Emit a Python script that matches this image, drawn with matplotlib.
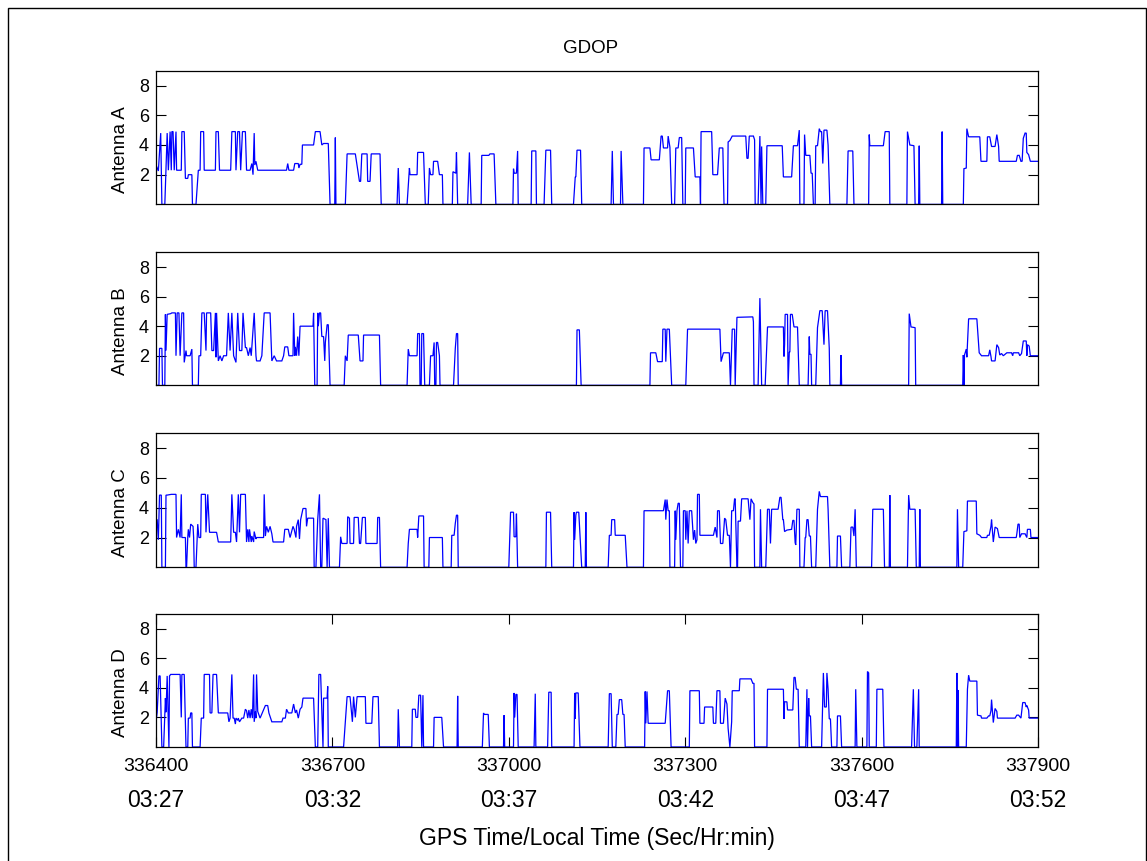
import matplotlib
matplotlib.use("Agg")
import matplotlib.pyplot as plt
from matplotlib.patches import Rectangle
from matplotlib.transforms import blended_transform_factory

plt.rcParams['font.family'] = ['Liberation Sans', 'DejaVu Sans']

# GPS seconds of week and matching local clock labels
gps_ticks = [336400, 336700, 337000, 337300, 337600, 337900]
local_times = ['03:27', '03:32', '03:37', '03:42', '03:47', '03:52']
gdop_ticks = [2, 4, 6, 8]
panel_names = ['Antenna A', 'Antenna B', 'Antenna C', 'Antenna D']

# (GPS time [s], GDOP) samples per antenna; 0 means no solution
antenna_a = [
    (336400, 2.65), (336404, 2.25), (336408, 4.8), (336410, 0), (336415, 0), (336417, 2.3),
    (336419, 4.8), (336421, 2.3), (336424, 4.9), (336426, 2.3), (336427, 4.9), (336429, 4.9),
    (336431, 2.3), (336434, 4.9), (336435, 2.3), (336443, 2.3), (336444, 4.9), (336448, 4.9),
    (336450, 1.75), (336454, 1.75), (336455, 2.0), (336461, 2.0), (336462, 0), (336468, 0),
    (336472, 2.3), (336475, 2.3), (336476, 4.9), (336481, 4.9), (336482, 2.3), (336501, 2.3),
    (336502, 4.9), (336506, 4.9), (336508, 2.3), (336527, 2.3), (336529, 4.9), (336535, 4.9),
    (336536, 2.3), (336539, 4.9), (336542, 4.9), (336544, 2.3), (336547, 4.9), (336552, 4.9),
    (336554, 2.3), (336560, 2.3), (336563, 2.75), (336565, 2.0), (336567, 4.8), (336568, 2.65),
    (336570, 2.9), (336573, 2.3), (336622, 2.3), (336624, 2.75), (336626, 2.3), (336634, 2.3),
    (336636, 2.75), (336642, 2.75), (336643, 2.45), (336645, 2.7), (336648, 2.7), (336649, 4.0),
    (336668, 4.0), (336671, 4.9), (336679, 4.9), (336682, 4.0), (336685, 4.1), (336693, 4.1),
    (336696, 0), (336704, 0), (336705, 4.5), (336706, 0), (336722, 0), (336725, 3.4),
    (336739, 3.4), (336746, 1.55), (336748, 1.55), (336750, 3.4), (336759, 3.4), (336760, 1.55),
    (336764, 1.55), (336766, 3.4), (336781, 3.4), (336783, 0), (336810, 0), (336812, 2.45),
    (336814, 0), (336827, 0), (336831, 2.45), (336832, 2.0), (336844, 2.0), (336845, 3.5),
    (336855, 3.5), (336858, 0), (336863, 0), (336865, 2.45), (336867, 2.0), (336871, 2.0),
    (336872, 2.9), (336879, 2.9), (336882, 2.0), (336887, 2.0), (336888, 0),
    (336904, 0), (336905, 2.2), (336910, 2.1), (336911, 3.5), (336913, 0), (336930, 0),
    (336933, 3.5), (336936, 0), (336953, 0), (336954, 3.3), (336966, 3.3), (336968, 3.4),
    (336975, 3.4), (336978, 0), (337007, 0), (337008, 2.4), (337009, 2.1), (337013, 2.1),
    (337015, 3.6), (337016, 0), (337038, 0), (337039, 3.6), (337046, 3.6), (337047, 0),
    (337060, 0), (337063, 3.65), (337071, 3.65), (337073, 0), (337110, 0), (337113, 1.85),
    (337114, 1.85), (337116, 3.65), (337122, 3.65), (337124, 0), (337174, 0), (337176, 3.6),
    (337178, 0), (337190, 0), (337191, 3.6), (337194, 0), (337229, 0), (337230, 3.8),
    (337240, 3.8), (337242, 3.0), (337256, 3.0), (337259, 4.6), (337261, 4.6), (337263, 3.8),
    (337270, 3.8), (337271, 4.6), (337274, 3.85), (337277, 0), (337282, 0), (337284, 3.8),
    (337288, 3.8), (337290, 4.5), (337294, 4.5), (337296, 0), (337300, 0), (337301, 3.8),
    (337314, 3.8), (337317, 1.85), (337325, 1.85), (337326, 0), (337327, 4.9), (337345, 4.9),
    (337347, 2.0), (337355, 2.0), (337358, 3.8), (337364, 3.8), (337366, 0), (337372, 0),
    (337373, 4.2), (337376, 4.3), (337380, 4.6),
    (337403, 4.6), (337405, 3.1), (337407, 3.1), (337409, 4.6), (337416, 4.6), (337418, 4.35),
    (337419, 0), (337424, 0), (337427, 4.6), (337429, 0), (337430, 3.9), (337432, 0),
    (337437, 0), (337439, 3.95), (337465, 3.95), (337467, 1.85), (337481, 1.85), (337484, 3.95),
    (337491, 3.95), (337494, 5.0), (337495, 0), (337502, 0), (337503, 4.7), (337505, 3.3),
    (337512, 3.3), (337514, 2.1), (337516, 2.1), (337518, 0), (337521, 0), (337522, 3.95),
    (337525, 3.95), (337528, 5.1), (337530, 4.9), (337532, 4.9), (337534, 2.75), (337536, 5.0),
    (337541, 5.0), (337543, 4.0), (337546, 0), (337575, 0), (337577, 3.6), (337585, 3.6),
    (337587, 0), (337612, 0), (337613, 4.7), (337614, 3.95), (337637, 3.95), (337640, 4.9),
    (337647, 4.9), (337648, 0), (337677, 0), (337678, 4.9), (337682, 4.0), (337689, 3.95),
    (337691, 0), (337697, 0), (337698, 3.95), (337699, 0), (337736, 0), (337737, 4.9),
    (337738, 0), (337773, 0), (337774, 2.4), (337778, 2.45), (337779, 5.1), (337782, 4.55),
    (337801, 4.55), (337803, 2.9), (337813, 2.9), (337814, 4.55), (337818, 4.55), (337821, 3.9),
    (337827, 3.9), (337830, 4.7), (337833, 3.9), (337834, 2.9), (337863, 2.9), (337865, 3.3),
    (337868, 3.3), (337871, 2.9), (337873, 2.9), (337875, 4.45), (337878, 4.8), (337880, 4.8),
    (337881, 3.5), (337884, 3.35), (337887, 2.9), (337900, 2.9),
]

antenna_b = [
    (336400, 0), (336405, 0), (336406, 2.5), (336410, 2.5), (336411, 0), (336415, 0),
    (336416, 4.8), (336417, 2.35), (336419, 4.8), (336425, 4.85), (336427, 4.9), (336433, 4.9),
    (336434, 2.0), (336436, 4.9), (336439, 4.9), (336441, 2.0), (336444, 4.9), (336447, 4.9),
    (336448, 1.55), (336451, 2.35), (336452, 2.0), (336458, 2.0), (336461, 2.45), (336462, 0),
    (336472, 0), (336473, 2.0), (336476, 2.0), (336478, 4.9), (336482, 4.9), (336485, 2.35),
    (336486, 4.9), (336493, 4.9), (336495, 2.35), (336498, 2.35), (336501, 4.9), (336502, 1.9),
    (336503, 4.9), (336506, 1.65), (336509, 2.0), (336512, 1.65), (336515, 2.0), (336520, 2.0),
    (336523, 4.9), (336526, 2.35), (336529, 4.9), (336532, 2.0), (336536, 1.55), (336539, 4.9),
    (336542, 2.35), (336546, 2.35), (336548, 4.9), (336552, 2.55), (336554, 2.55), (336557, 2.0),
    (336560, 2.55), (336562, 2.0), (336567, 4.9), (336570, 2.0), (336571, 1.65), (336577, 1.65),
    (336580, 2.0), (336584, 4.9), (336594, 4.9), (336597, 1.65), (336601, 2.0), (336605, 1.65),
    (336614, 1.65), (336617, 2.0), (336619, 2.6), (336624, 2.6), (336626, 2.0), (336633, 2.0),
    (336634, 4.9), (336636, 2.0), (336637, 2.6), (336639, 2.0), (336641, 3.3), (336643, 2.0),
    (336645, 4.0), (336667, 4.0), (336668, 4.9), (336670, 0), (336674, 0), (336675, 4.9),
    (336676, 4.0), (336678, 4.9), (336680, 4.9), (336682, 3.3), (336685, 3.3), (336687, 1.65),
    (336688, 2.9), (336691, 4.1), (336693, 4.1), (336696, 0), (336720, 0), (336722, 2.0),
    (336725, 1.65), (336727, 3.4), (336744, 3.4), (336747, 1.65), (336752, 1.65), (336753, 3.4),
    (336780, 3.4), (336782, 0), (336827, 0), (336829, 2.45), (336831, 2.0), (336844, 2.0),
    (336845, 3.5), (336848, 3.5), (336849, 0), (336851, 0), (336852, 3.5), (336855, 3.5),
    (336857, 0), (336865, 0), (336867, 2.0), (336871, 2.0), (336873, 2.9), (336874, 0),
    (336876, 0), (336877, 2.9), (336879, 2.9), (336882, 2.0), (336883, 0),
    (336906, 0), (336909, 2.5), (336911, 3.5), (336913, 3.5), (336914, 0), (337115, 0),
    (337116, 3.75), (337120, 3.75), (337123, 0), (337240, 0), (337241, 2.2), (337250, 2.2),
    (337253, 1.6), (337261, 1.6), (337262, 3.8), (337266, 3.8), (337267, 1.6), (337269, 3.8),
    (337273, 3.8), (337277, 0), (337301, 0), (337304, 3.8), (337359, 3.8), (337361, 1.6),
    (337365, 2.2), (337375, 2.2), (337377, 0), (337380, 3.8), (337384, 3.8), (337385, 0),
    (337388, 4.6),
    (337415, 4.63), (337416, 4.3), (337417, 0), (337424, 0), (337427, 5.9), (337430, 0),
    (337436, 0), (337440, 3.95), (337467, 3.95), (337468, 1.95), (337469, 2.75), (337470, 4.8),
    (337474, 4.8), (337475, 0), (337477, 2.25), (337478, 2.25), (337479, 4.8), (337482, 4.8),
    (337485, 3.95), (337491, 3.95), (337494, 0), (337509, 0), (337511, 3.3), (337512, 2.1),
    (337514, 2.1), (337515, 0), (337522, 0), (337525, 3.9), (337529, 5.05), (337533, 5.05),
    (337536, 2.75), (337538, 5.05), (337542, 5.05), (337545, 2.5), (337546, 0), (337564, 0),
    (337565, 2.05), (337566, 0), (337680, 0), (337681, 4.85), (337684, 3.95), (337691, 3.9),
    (337692, 0), (337772, 0), (337773, 2.05), (337774, 0), (337775, 2.05), (337778, 2.45),
    (337779, 1.9), (337782, 4.5), (337796, 4.5), (337800, 2.2), (337804, 2.0), (337816, 2.0),
    (337818, 2.4), (337820, 1.95), (337821, 1.65), (337827, 1.65), (337830, 2.75), (337833, 2.55),
    (337835, 2.05), (337838, 2.15), (337841, 2.0), (337847, 2.2), (337855, 2.2), (337857, 2.0),
    (337858, 2.2), (337867, 2.2), (337869, 2.0), (337872, 2.15), (337875, 3.0), (337880, 3.0),
    (337881, 2.0), (337882, 2.75), (337885, 2.65), (337887, 2.0), (337900, 2.0),
]

antenna_c = [
    (336400, 3.2), (336402, 3.2), (336404, 1.85), (336406, 4.85), (336409, 4.85), (336410, 0),
    (336416, 0), (336417, 4.85), (336419, 4.85), (336426, 4.9), (336434, 4.9), (336435, 2.0),
    (336438, 2.55), (336441, 2.0), (336443, 4.9), (336444, 2.0), (336450, 2.0), (336451, 0),
    (336452, 0), (336454, 2.0), (336455, 2.55), (336457, 2.0), (336459, 2.9), (336463, 2.75),
    (336464, 2.0), (336465, 0), (336468, 0), (336471, 2.9), (336473, 2.0), (336476, 2.0),
    (336477, 4.9), (336484, 4.9), (336485, 2.35), (336488, 4.9), (336491, 2.35), (336503, 2.35),
    (336506, 1.7), (336527, 1.7), (336529, 4.9), (336532, 2.35), (336535, 2.35), (336537, 1.7),
    (336540, 4.9), (336542, 2.35), (336544, 4.9), (336552, 4.9), (336554, 1.7), (336556, 2.55),
    (336558, 1.7), (336559, 2.55), (336562, 1.7), (336563, 2.1), (336566, 1.7), (336567, 2.4),
    (336570, 1.9), (336571, 2.0), (336583, 2.0), (336584, 4.9), (336586, 2.1), (336588, 2.75),
    (336591, 2.35), (336594, 2.75), (336597, 2.25), (336599, 1.7), (336617, 1.7), (336619, 2.55),
    (336625, 2.55), (336628, 2.0), (336633, 2.75), (336635, 2.55), (336638, 2.0), (336639, 2.75),
    (336642, 3.2), (336644, 1.9), (336646, 3.2), (336650, 3.95), (336655, 3.95), (336656, 2.75),
    (336658, 3.3), (336668, 3.3), (336669, 0), (336672, 0), (336675, 3.2), (336678, 4.9),
    (336680, 0), (336682, 0), (336684, 3.3), (336689, 3.2), (336691, 0), (336693, 3.3),
    (336695, 0), (336712, 0), (336714, 2.05), (336716, 1.6), (336725, 1.6), (336726, 3.4),
    (336729, 3.3), (336730, 1.6), (336736, 1.6), (336737, 3.35), (336744, 3.35), (336746, 1.6),
    (336748, 1.6), (336751, 3.35), (336756, 3.35), (336757, 1.6), (336776, 1.6), (336777, 3.35),
    (336780, 3.35), (336782, 0), (336827, 0), (336829, 1.6), (336831, 2.55), (336844, 2.55),
    (336845, 2.0), (336847, 3.45), (336855, 3.45), (336856, 0), (336864, 0), (336865, 2.0),
    (336887, 2.0), (336888, 0),
    (336902, 0), (336903, 2.15), (336907, 2.15), (336909, 2.95), (336911, 3.5), (336913, 3.5),
    (336914, 0), (337000, 0), (337003, 3.7), (337008, 3.7), (337009, 2.05), (337012, 2.05),
    (337013, 3.6), (337015, 0), (337063, 0), (337064, 3.7), (337071, 3.7), (337073, 0),
    (337110, 0), (337111, 3.7), (337112, 1.85), (337114, 3.5), (337115, 3.7), (337119, 3.7),
    (337124, 0), (337130, 0), (337131, 3.7), (337132, 0), (337169, 0), (337171, 2.15),
    (337174, 2.15), (337175, 3.2), (337180, 3.2), (337181, 2.15), (337198, 2.15), (337201, 0),
    (337229, 0), (337230, 3.8), (337263, 3.8), (337266, 4.55), (337267, 3.2), (337269, 4.55),
    (337271, 3.8), (337273, 3.8), (337274, 0), (337282, 0), (337283, 3.8), (337284, 1.85),
    (337286, 3.8), (337288, 4.3), (337290, 4.3), (337292, 0), (337296, 0), (337297, 3.8),
    (337300, 3.8), (337301, 1.85), (337303, 3.8), (337305, 1.6), (337307, 3.8), (337311, 3.8),
    (337314, 1.85), (337316, 2.5), (337318, 1.6), (337320, 1.85), (337321, 4.9), (337324, 4.9),
    (337325, 2.15), (337348, 2.15), (337351, 2.7), (337354, 2.0), (337355, 3.8), (337358, 3.8),
    (337360, 1.6), (337364, 1.6), (337367, 3.3), (337369, 3.2), (337372, 2.15), (337375, 2.15),
    (337377, 0), (337379, 3.8), (337382, 3.8), (337384, 4.6), (337385, 4.6), (337388, 0),
    (337389, 0), (337390, 3.1), (337394, 3.1), (337396, 4.6),
    (337407, 4.6), (337410, 3.2), (337412, 4.6), (337415, 4.35), (337417, 4.25), (337418, 0),
    (337427, 0), (337428, 3.9), (337430, 0), (337437, 0), (337440, 3.9), (337443, 3.9),
    (337445, 1.6), (337447, 3.9), (337458, 3.9), (337461, 4.7), (337463, 4.7), (337466, 3.2),
    (337467, 3.2), (337469, 2.4), (337473, 2.5), (337481, 2.55), (337483, 3.15), (337485, 3.15),
    (337487, 1.65), (337488, 1.5), (337490, 3.9), (337494, 3.9), (337495, 0), (337502, 0),
    (337504, 2.0), (337505, 2.0), (337507, 3.2), (337509, 3.2), (337511, 2.1), (337513, 2.1),
    (337515, 0), (337522, 0), (337525, 3.9), (337528, 5.1), (337530, 4.75), (337542, 4.75),
    (337543, 3.9), (337546, 0), (337558, 0), (337559, 2.1), (337564, 2.1), (337566, 0),
    (337580, 0), (337582, 2.7), (337585, 2.7), (337587, 2.1), (337589, 3.9), (337591, 0),
    (337617, 0), (337619, 3.9), (337637, 3.9), (337639, 0), (337647, 0), (337648, 4.85),
    (337649, 0), (337678, 0), (337680, 4.85), (337682, 3.9), (337691, 3.9), (337693, 0),
    (337698, 0), (337699, 3.9), (337700, 0), (337762, 0), (337763, 3.9), (337765, 0),
    (337772, 0), (337774, 2.4), (337779, 2.45), (337780, 4.45), (337795, 4.45), (337796, 2.25),
    (337801, 2.15), (337804, 2.0), (337813, 2.0), (337814, 2.15), (337817, 2.15), (337820, 2.75),
    (337821, 3.2), (337824, 1.7), (337827, 2.7), (337831, 2.6), (337834, 2.0), (337863, 2.0),
    (337864, 2.25), (337866, 2.9), (337868, 2.9), (337869, 2.0), (337872, 2.25), (337878, 2.25),
    (337881, 2.0), (337882, 2.55), (337887, 2.55), (337888, 2.0), (337900, 2.0),
]

antenna_d = [
    (336400, 1.7), (336402, 2.35), (336405, 4.8), (336407, 4.8), (336409, 1.7), (336410, 0),
    (336413, 0), (336416, 3.3), (336417, 2.35), (336419, 4.8), (336422, 0), (336423, 4.8),
    (336425, 4.9), (336441, 4.9), (336443, 2.0), (336444, 4.9), (336448, 4.9), (336451, 0),
    (336454, 0), (336455, 1.95), (336458, 1.95), (336459, 2.3), (336461, 2.3), (336462, 0),
    (336475, 0), (336477, 1.95), (336481, 1.95), (336482, 4.9), (336491, 4.9), (336492, 2.3),
    (336495, 2.3), (336497, 4.9), (336503, 4.9), (336506, 2.3), (336522, 2.3), (336524, 1.7),
    (336526, 1.95), (336529, 4.9), (336531, 1.95), (336533, 1.95), (336535, 1.55), (336536, 1.95),
    (336539, 1.8), (336540, 1.95), (336542, 1.7), (336546, 1.95), (336549, 1.95), (336552, 2.55),
    (336554, 2.45), (336556, 1.95), (336558, 2.5), (336560, 1.95), (336562, 2.55), (336564, 1.95),
    (336566, 4.9), (336567, 1.7), (336569, 2.4), (336570, 1.95), (336571, 4.9), (336573, 2.4),
    (336577, 1.95), (336586, 2.8), (336590, 2.8), (336592, 2.3), (336597, 1.7), (336614, 1.7),
    (336616, 1.95), (336620, 1.95), (336622, 2.55), (336625, 2.3), (336631, 2.3), (336634, 2.9),
    (336637, 2.3), (336639, 2.5), (336642, 1.95), (336645, 2.55), (336648, 2.7), (336650, 3.3),
    (336668, 3.3), (336671, 0), (336675, 0), (336677, 4.9), (336680, 4.9), (336684, 0),
    (336685, 3.3), (336691, 3.3), (336692, 4.1), (336693, 0), (336719, 0), (336725, 3.4),
    (336730, 3.4), (336734, 1.7), (336736, 3.4), (336739, 2.0), (336742, 3.4), (336756, 3.4),
    (336757, 1.6), (336767, 1.6), (336769, 3.4), (336778, 3.4), (336780, 0), (336811, 0),
    (336812, 2.55), (336814, 0), (336835, 0), (336836, 2.55), (336841, 2.55), (336842, 2.0),
    (336845, 2.0), (336847, 3.5), (336850, 3.5), (336852, 0), (336854, 3.5), (336855, 0),
    (336872, 0), (336873, 2.0), (336886, 2.0), (336889, 0),
    (336912, 0), (336913, 3.45), (336914, 0), (336955, 0), (336957, 2.3), (336958, 2.2),
    (336965, 2.2), (336967, 0), (336991, 0), (336992, 2.15), (336993, 0), (337008, 0),
    (337009, 3.65), (337010, 2.0), (337012, 3.55), (337014, 3.55), (337016, 0), (337043, 0),
    (337045, 3.6), (337046, 0), (337066, 0), (337068, 3.7), (337072, 3.7), (337073, 0),
    (337111, 0), (337112, 3.65), (337113, 1.9), (337114, 3.65), (337118, 3.65), (337121, 0),
    (337169, 0), (337171, 3.6), (337174, 3.6), (337176, 0), (337182, 0), (337184, 2.2),
    (337186, 2.2), (337188, 3.2), (337192, 3.2), (337194, 2.2), (337196, 2.2), (337198, 0),
    (337231, 0), (337232, 3.75), (337233, 1.6), (337235, 3.75), (337237, 1.6), (337266, 1.6),
    (337270, 3.8), (337273, 3.8), (337276, 0), (337307, 0), (337308, 3.8), (337324, 3.8),
    (337325, 1.6), (337332, 1.6), (337333, 2.7), (337347, 2.7), (337348, 1.6), (337352, 1.6),
    (337354, 3.8), (337359, 3.8), (337360, 1.6), (337365, 1.6), (337368, 3.3), (337371, 2.9),
    (337373, 1.25), (337376, 0), (337379, 1.7), (337380, 3.8), (337392, 3.8), (337393, 4.6),
    (337412, 4.6), (337415, 4.3), (337417, 4.3), (337418, 0), (337439, 0), (337440, 3.9),
    (337467, 3.9), (337468, 1.9), (337469, 3.05), (337473, 3.05), (337474, 2.5), (337483, 2.5),
    (337485, 4.7), (337487, 4.7), (337489, 3.9), (337492, 3.9), (337494, 0), (337505, 0),
    (337507, 3.9), (337508, 0), (337510, 3.3), (337511, 2.1), (337513, 2.1), (337515, 0),
    (337532, 0), (337535, 5.0), (337537, 2.7), (337540, 2.7), (337541, 5.0), (337543, 3.9),
    (337545, 1.9), (337547, 1.9), (337549, 0), (337558, 0), (337559, 2.1), (337564, 2.1),
    (337566, 0), (337589, 0), (337590, 3.9), (337592, 0), (337609, 0), (337610, 5.1),
    (337612, 5.0), (337613, 0), (337625, 0), (337626, 3.9), (337636, 3.9), (337638, 0),
    (337685, 0), (337688, 3.9), (337690, 0), (337694, 0), (337697, 3.9), (337698, 0),
    (337761, 0), (337762, 5.0), (337763, 0), (337764, 3.85), (337765, 0), (337778, 0),
    (337780, 3.9), (337782, 4.85), (337784, 4.45), (337796, 4.45), (337797, 2.15), (337803, 2.1),
    (337804, 1.95), (337813, 1.95), (337816, 2.1), (337818, 2.1), (337820, 2.45), (337821, 3.2),
    (337824, 1.65), (337827, 2.6), (337830, 2.4), (337831, 1.95), (337861, 1.95), (337864, 2.15),
    (337867, 2.15), (337871, 1.95), (337874, 3.0), (337878, 3.0), (337880, 2.7), (337881, 2.8),
    (337884, 2.5), (337885, 1.95), (337900, 1.95),
]

series = [antenna_a, antenna_b, antenna_c, antenna_d]

W, H = 1147, 861
fig = plt.figure(figsize=(W / 100, H / 100), dpi=100)
fig.patch.set_facecolor('white')

# panel boxes in pixels: left, top, right, bottom
boxes = [(156, 70.7, 1038, 204.4), (156, 252.3, 1038, 385.3),
         (156, 433.3, 1038, 567.3), (156, 613.7, 1038, 747.0)]

axes = []
for i, ((l, t, r, b), data, name) in enumerate(zip(boxes, series, panel_names)):
    ax = fig.add_axes([l / W, 1 - b / H, (r - l) / W, (b - t) / H])
    xs = [p[0] for p in data]
    ys = [p[1] for p in data]
    ax.plot(xs, ys, color='#0000ff', lw=0.9, solid_joinstyle='miter')
    ax.set_xlim(gps_ticks[0], gps_ticks[-1])
    ax.set_ylim(0, 9)
    ax.set_yticks(gdop_ticks)
    ax.tick_params(axis='y', direction='in', length=7, width=0.8, right=True,
                   labelsize=13, pad=5)
    for sp in ax.spines.values():
        sp.set_linewidth(0.9)
        sp.set_color('black')
    ax.set_ylabel(name, fontsize=13.5)
    ax.yaxis.set_label_coords(-0.031, 0.41)
    if i < 3:
        ax.set_xticks([])
    else:
        ax.set_xticks(gps_ticks)
        ax.set_xticklabels([str(v) for v in gps_ticks])
        ax.tick_params(axis='x', direction='in', length=7, width=0.8, top=True,
                       labelsize=14, pad=8)
        trans = blended_transform_factory(ax.transData, ax.transAxes)
        for x, lab in zip(gps_ticks, local_times):
            ax.text(x, -0.40, lab, transform=trans, ha='center', va='center',
                    fontsize=16.5)
        ax.text(0.5, -0.685, 'GPS Time/Local Time (Sec/Hr:min)', transform=ax.transAxes,
                ha='center', va='center', fontsize=16.5)
    axes.append(ax)

axes[0].text(0.493, 1.165, 'GDOP', transform=axes[0].transAxes, ha='center',
             va='center', fontsize=13.5)

# thin frame around the whole figure
fig.add_artist(Rectangle((8 / W, -0.05), (1146 - 8) / W, 1.05 - 8 / H,
                         transform=fig.transFigure, fill=False, lw=1.0,
                         edgecolor='black'))

fig.savefig('out.png', dpi=100)
